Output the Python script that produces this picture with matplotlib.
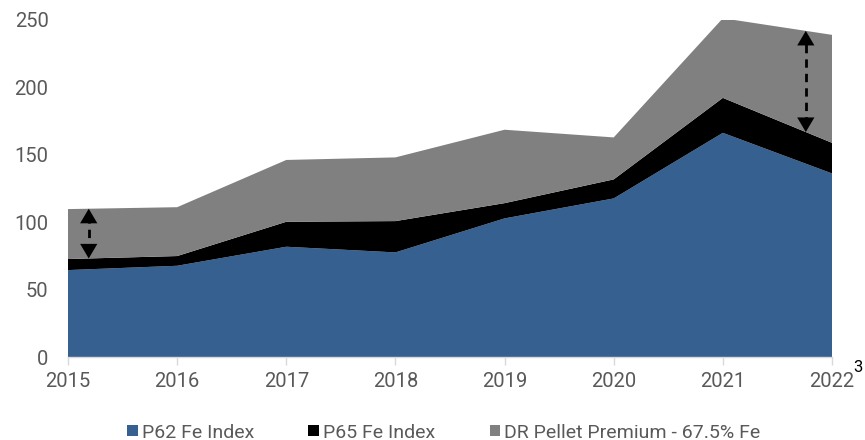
import matplotlib
matplotlib.use('Agg')
import matplotlib.pyplot as plt
import numpy as np
from matplotlib.patches import Patch

# data (USD/t)
years = [2015, 2016, 2017, 2018, 2019, 2020, 2021, 2022]
p62_index = [64.4, 67.6, 81.7, 77.5, 102.7, 117.5, 166.1, 136.0]
p65_index = [72.6, 74.8, 100.2, 100.7, 114.0, 131.6, 192.0, 158.7]
dr_pellet = [109.6, 111.0, 146.0, 147.9, 168.4, 162.7, 251.0, 238.7]
series_names = ['P62 Fe Index', 'P65 Fe Index', 'DR Pellet Premium - 67.5% Fe']
arrow_years = [2015.19, 2021.76]

colors = ['#36608F', '#000000', '#808080']
label_color = '#595959'

plt.rcParams['font.family'] = ['Roboto', 'DejaVu Sans']

x = np.array(years, dtype=float)
p62 = np.array(p62_index)
p65 = np.array(p65_index)
dr = np.array(dr_pellet)

fig = plt.figure(figsize=(8.65, 4.4), dpi=100)
ax = fig.add_axes([68 / 865, 1 - 357 / 440, (832 - 68) / 865, (357 - 19.6) / 440])

ax.stackplot(x, p62, p65 - p62, dr - p65, colors=colors, linewidth=0)

# dashed double arrows showing the pellet premium over P65
for xa in arrow_years:
    y_lo = np.interp(xa, x, p65)
    y_hi = np.interp(xa, x, dr)
    ax.plot([xa, xa], [y_lo + 5, y_hi - 5], color='black', lw=2.0,
            dashes=(3, 2.2), solid_capstyle='butt')
    # filled heads only (zero-width shaft)
    ax.annotate('', xy=(xa, y_hi), xytext=(xa, y_lo),
                arrowprops=dict(arrowstyle='<|-|>,head_length=1.05,head_width=0.62',
                                facecolor='black', edgecolor='black', lw=0,
                                shrinkA=0, shrinkB=0, mutation_scale=10))

ax.set_xlim(2015, 2022)
ax.set_ylim(0, 250)
ax.set_xticks(years)
ax.set_yticks([0, 50, 100, 150, 200, 250])

for side in ['left', 'right', 'top']:
    ax.spines[side].set_visible(False)
ax.spines['bottom'].set_color('#D9D9D9')
ax.spines['bottom'].set_linewidth(1.0)
ax.tick_params(axis='x', colors='#D9D9D9', labelcolor=label_color, length=6,
               width=1.0, pad=5, labelsize=14.5)
ax.tick_params(axis='y', length=0, pad=14, labelcolor=label_color, labelsize=14.5)

handles = [Patch(facecolor=c, edgecolor='none') for c in colors]
fig.legend(handles, series_names, loc='center', bbox_to_anchor=(0.513, 0.017),
           ncol=3, frameon=False, fontsize=14, handlelength=0.55, handleheight=0.55,
           handletextpad=0.2, columnspacing=2.8, labelcolor=label_color)

fig.text(858 / 865, 1 - 367 / 440, '3', fontsize=12, color='black',
         ha='center', va='center')

fig.savefig('out.png', dpi=100)
